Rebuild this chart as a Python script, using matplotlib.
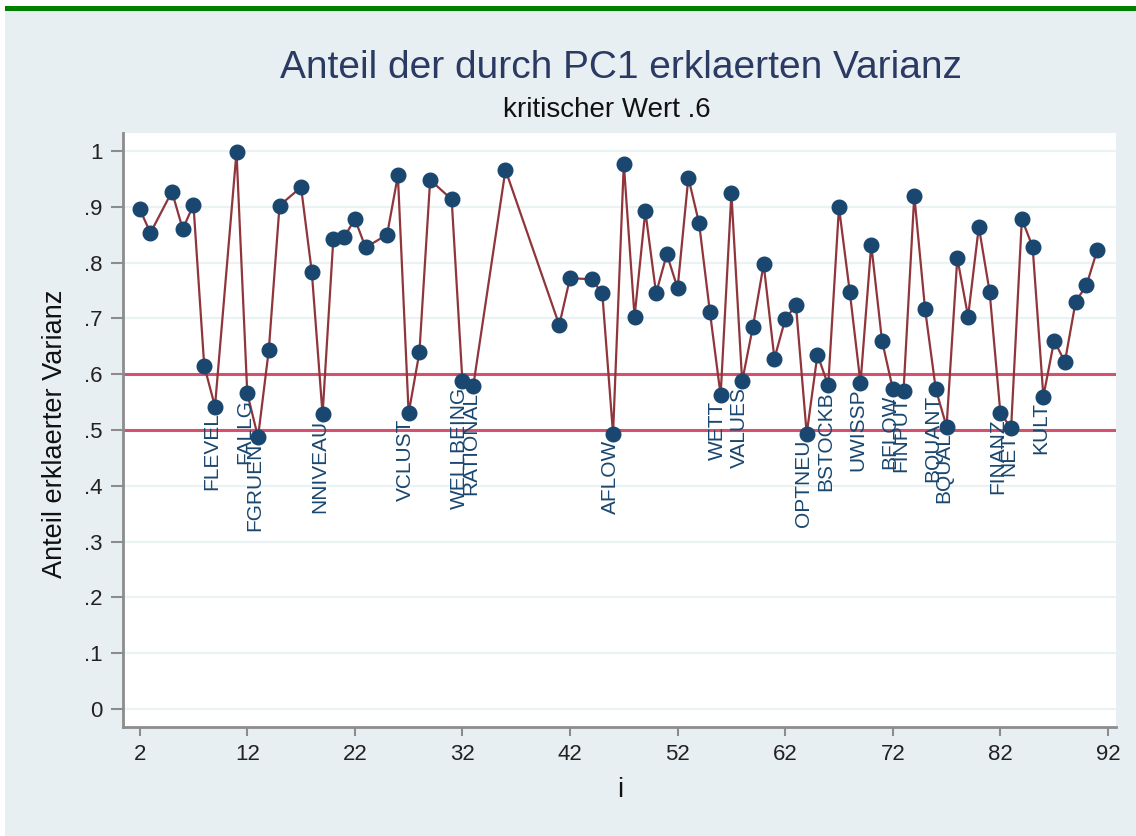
import matplotlib
matplotlib.use('Agg')
import matplotlib.pyplot as plt
from matplotlib.patches import Rectangle

plt.rcParams['font.family'] = ['Liberation Sans', 'DejaVu Sans']

# ---- data ----
idx = [2, 3, 5, 6, 7, 8, 9, 11, 12, 13, 14, 15, 17, 18, 19, 20, 21, 22, 23, 25,
       26, 27, 28, 29, 31, 32, 33, 36, 41, 42, 44, 45, 46, 47, 48, 49, 50, 51, 52, 53,
       54, 55, 56, 57, 58, 59, 60, 61, 62, 63, 64, 65, 66, 67, 68, 69, 70, 71, 72, 73,
       74, 75, 76, 77, 78, 79, 80, 81, 82, 83, 84, 85, 86, 87, 88, 89, 90, 91]
share = [.896, .853, .927, .860, .903, .615, .542, .998, .566, .487, .643, .902, .935, .783, .528, .842, .845, .878, .827, .850,
         .956, .530, .639, .948, .913, .587, .578, .966, .688, .772, .770, .745, .493, .977, .703, .892, .745, .815, .754, .952,
         .870, .712, .562, .924, .587, .685, .797, .628, .698, .724, .493, .635, .580, .899, .748, .584, .832, .660, .574, .570,
         .920, .717, .573, .506, .808, .703, .864, .748, .531, .503, .878, .828, .560, .660, .622, .730, .759, .822]
label_idx = [9, 12, 13, 19, 27, 32, 33, 46, 56, 58, 64, 66, 69, 72, 73, 76, 77, 82, 83, 86]
label_names = ['FLEVEL', 'FALLG', 'FGRUEN', 'NNIVEAU', 'VCLUST', 'WELLBEING', 'RATIONAL', 'AFLOW',
               'WETT', 'VALUES', 'OPTNEU', 'BSTOCKB', 'UWISSP', 'BFLOW', 'FINPUT', 'BQUANT', 'BQUAL',
               'FINANZ', 'NET', 'KULT']
ref_lines = [0.6, 0.5]
xticks = [2, 12, 22, 32, 42, 52, 62, 72, 82, 92]
yticks = [0, .1, .2, .3, .4, .5, .6, .7, .8, .9, 1]
ytick_labels = ['0', '.1', '.2', '.3', '.4', '.5', '.6', '.7', '.8', '.9', '1']

W, H = 1136, 836
fig = plt.figure(figsize=(W / 100, H / 100), dpi=100)
fig.patch.set_facecolor('white')
fig.patches.append(Rectangle((5 / W, 0), 1 - 5 / W, 1 - 11 / H, transform=fig.transFigure,
                             facecolor='#e8eff2', edgecolor='none', zorder=-10))
fig.patches.append(Rectangle((5 / W, 1 - 11 / H), 1 - 5 / W, 5 / H, transform=fig.transFigure,
                             facecolor='#008000', edgecolor='none', zorder=-10))

ax = fig.add_axes([123 / W, 1 - 727 / H, (1116 - 123) / W, (727 - 133) / H])
ax.set_zorder(5)
ax.set_facecolor('white')
ax.set_xlim(0.45, 92.75)
ax.set_ylim(-0.032, 1.032)

for y in yticks:
    ax.axhline(y, color='#eaf2f3', lw=1.6, zorder=0)
for r in ref_lines:
    ax.axhline(r, color='#d6506f', lw=2.2, zorder=2)

ax.plot(idx, share, color='#90353b', lw=1.6, zorder=3)
ax.plot(idx, share, 'o', ms=10.5, mfc='#1a476f', mec='#1a476f', zorder=4)

pos = {x: v for x, v in zip(idx, share)}
for x, name in zip(label_idx, label_names):
    ax.annotate(name, (x, pos[x]), xytext=(-2, -4), textcoords='offset points',
                rotation=90, ha='center', va='top', fontsize=15, color='#1a476f', zorder=5)

for s in ['top', 'right']:
    ax.spines[s].set_visible(False)
for s in ['left', 'bottom']:
    ax.spines[s].set_color('#8c8c8c')
    ax.spines[s].set_linewidth(2)

ax.set_xticks(xticks)
ax.set_yticks(yticks)
ax.set_yticklabels(ytick_labels)
ax.tick_params(axis='y', color='#8c8c8c', width=1.5, length=8.5, labelsize=16, pad=6, labelcolor='#222222')
ax.tick_params(axis='x', color='#8c8c8c', width=1.5, length=6.5, labelsize=16, pad=6, labelcolor='#222222')

fig.text(621 / W, 1 - 78 / H, 'Anteil der durch PC1 erklaerten Varianz', ha='center', va='baseline',
         fontsize=28, color='#2a3a63')
fig.text(607 / W, 1 - 117 / H, 'kritischer Wert .6', ha='center', va='baseline',
         fontsize=20, color='#111111')
fig.text(55 / W, 1 - 434 / H, 'Anteil erklaerter Varianz', ha='center', va='center', rotation=90,
         fontsize=19.5, color='#111111')
fig.text(620 / W, 1 - 790 / H, 'i', ha='center', va='center', fontsize=19.5, color='#111111')

fig.savefig('out.png', dpi=100, facecolor=fig.get_facecolor())
